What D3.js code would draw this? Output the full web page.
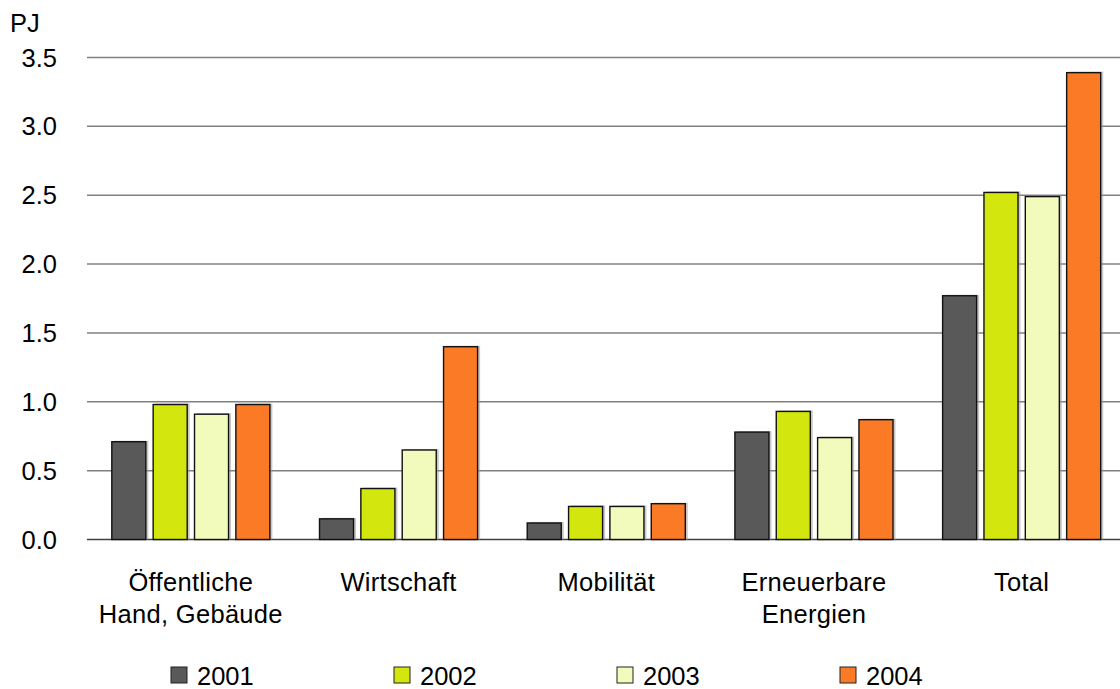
<!DOCTYPE html>
<html><head><meta charset="utf-8">
<script src="https://cdn.jsdelivr.net/npm/d3@7"></script>
<style>body{margin:0;background:#fff}svg{display:block;font-family:"Liberation Sans",Arial,sans-serif}</style>
</head><body><svg id="c" width="1120" height="689"></svg>
<script>
const categories = [["Öffentliche","Hand, Gebäude"],["Wirtschaft"],["Mobilität"],["Erneuerbare","Energien"],["Total"]];
const series = ["2001","2002","2003","2004"];
const v2001 = [0.71, 0.15, 0.12, 0.78, 1.77];
const v2002 = [0.98, 0.37, 0.24, 0.93, 2.52];
const v2003 = [0.91, 0.65, 0.24, 0.74, 2.49];
const v2004 = [0.98, 1.40, 0.26, 0.87, 3.39];
const yTicks = [0, 0.5, 1.0, 1.5, 2.0, 2.5, 3.0, 3.5];
const colors = ["#595959", "#d3e70f", "#f2fabc", "#fb7a26"];
const values = [v2001, v2002, v2003, v2004];

(function () {
const svg = d3.select("#c");
const FS = 25.5;
const pLeft = 87, pRight = 1125.5, pTop = 57.5, pBottom = 539.5;
const y = d3.scaleLinear().domain([0, 3.5]).range([pBottom, pTop]);
const x0 = d3.scaleBand().domain(d3.range(categories.length)).range([pLeft, pRight]).padding(0);
const x1 = d3.scaleBand().domain(series).range([0, x0.bandwidth()]).paddingInner(0.177).paddingOuter(0.6);

// grid
svg.append("g").selectAll("line").data(yTicks).join("line")
  .attr("x1", pLeft).attr("x2", 1120)
  .attr("y1", d => y(d)).attr("y2", d => y(d))
  .attr("stroke", d => d === 0 ? "#404040" : "#808080").attr("stroke-width", 1.5);

// y labels
svg.append("g").selectAll("text").data(yTicks).join("text")
  .attr("x", 57).attr("y", d => y(d) + 9)
  .attr("text-anchor", "end").attr("font-size", FS).attr("fill", "#000")
  .text(d => d.toFixed(1));

svg.append("text").attr("x", 10).attr("y", 32).attr("font-size", FS).text("PJ");

// bars
const g = svg.append("g");
series.forEach((s, si) => {
  values[si].forEach((v, ci) => {
    const bx = x0(ci) + x1(s), bw = x1.bandwidth();
    g.append("rect").attr("x", bx + 2.5).attr("y", y(v) - 1).attr("width", bw).attr("height", pBottom - y(v) + 1)
      .attr("fill", "#9a9a9a").attr("opacity", 0.55);
  });
});
series.forEach((s, si) => {
  values[si].forEach((v, ci) => {
    const bx = x0(ci) + x1(s), bw = x1.bandwidth();
    g.append("rect").attr("x", bx).attr("y", y(v)).attr("width", bw).attr("height", pBottom - y(v))
      .attr("fill", colors[si]).attr("stroke", "#111").attr("stroke-width", 1.4);
  });
});

// category labels
const cl = svg.append("g");
categories.forEach((lines, ci) => {
  const t = cl.append("text").attr("text-anchor", "middle").attr("font-size", FS)
    .attr("letter-spacing", 0.3)
    .attr("x", x0(ci) + x0.bandwidth() / 2);
  lines.forEach((ln, li) => {
    t.append("tspan").attr("x", x0(ci) + x0.bandwidth() / 2).attr("y", 591 + li * 32).text(ln);
  });
});

// legend
const legX = d3.scaleLinear().domain([0, 3]).range([171, 840]);
const lg = svg.append("g");
series.forEach((s, i) => {
  lg.append("rect").attr("x", legX(i)).attr("y", 667).attr("width", 16).attr("height", 16)
    .attr("fill", colors[i]).attr("stroke", "#222").attr("stroke-width", 1);
  lg.append("text").attr("x", legX(i) + 26).attr("y", 684.5).attr("font-size", FS).text(s);
});
})();
</script></body></html>
